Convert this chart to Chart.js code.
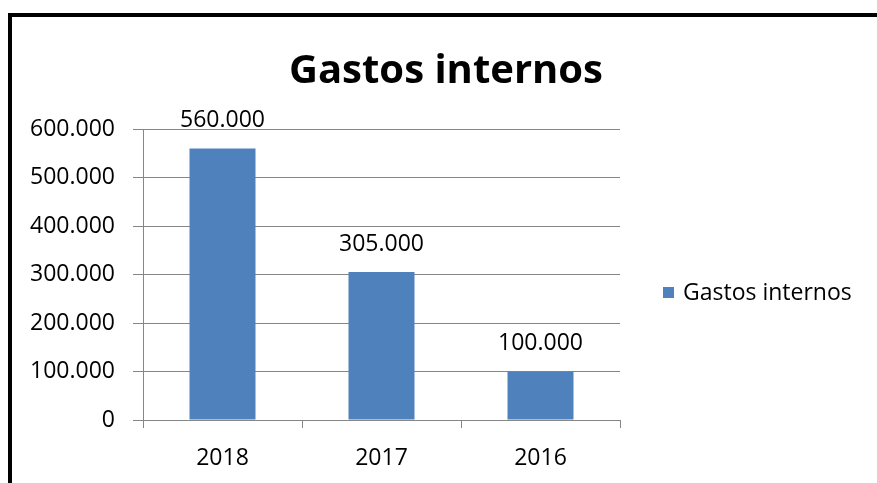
<!DOCTYPE html>
<html>
<head>
<meta charset="utf-8">
<script src="https://cdn.jsdelivr.net/npm/chart.js@4.4.1/dist/chart.umd.min.js"></script>
<style>
  html, body { margin: 0; padding: 0; background: #fff; }
  #frame {
    position: absolute; left: 8px; top: 13px; width: 900px; height: 500px;
    border-top: 4px solid #000; border-left: 4px solid #000;
  }
  #wrap { position: absolute; left: 0; top: 0; width: 877px; height: 483px; }
</style>
</head>
<body>
<div id="frame"></div>
<div id="wrap"><canvas id="chart"></canvas></div>
<script>
const years = ['2018', '2017', '2016'];
const gastos = [560000, 305000, 100000];
const seriesName = 'Gastos internos';
const chartTitle = 'Gastos internos';

const FONT = '"Open Sans", sans-serif';
const GRID = '#868686';

// puntos como separador de miles: 560000 -> 560.000
function fmt(v) {
    return String(v).replace(/\B(?=(\d{3})+(?!\d))/g, '.');
}

// etiquetas de valor encima de cada barra
const barLabels = {
    id: 'barLabels',
    afterDatasetsDraw(chart) {
        const ctx = chart.ctx;
        const meta = chart.getDatasetMeta(0);
        ctx.save();
        ctx.font = '23px ' + FONT;
        ctx.fillStyle = '#000';
        ctx.textAlign = 'center';
        ctx.textBaseline = 'middle';
        meta.data.forEach((bar, i) => {
            ctx.fillText(fmt(chart.data.datasets[0].data[i]), bar.x, bar.y - 28);
        });
        ctx.restore();
    }
};

// titulo centrado sobre todo el marco, leyenda a la derecha
const sideLegend = {
    id: 'sideLegend',
    afterLayout(chart) {
        const t = chart.titleBlock;
        if (t) { t.left = 8; t.right = 884; }
    },
    afterDraw(chart) {
        const ctx = chart.ctx;
        const ds = chart.data.datasets[0];
        const x = chart.chartArea.right + 43;
        const y = 293;
        ctx.save();
        ctx.fillStyle = ds.backgroundColor;
        ctx.fillRect(x, y - 6, 11, 11);
        ctx.font = '23px ' + FONT;
        ctx.fillStyle = '#000';
        ctx.textBaseline = 'middle';
        ctx.fillText(ds.label, x + 20, y);
        ctx.restore();
    }
};

const ctx = document.getElementById('chart').getContext('2d');
new Chart(ctx, {
    type: 'bar',
    data: {
        labels: years,
        datasets: [{
            label: seriesName,
            data: gastos,
            backgroundColor: '#4F81BD',
            borderWidth: 0,
            barPercentage: 0.415,
            categoryPercentage: 1
        }]
    },
    options: {
        responsive: true,
        maintainAspectRatio: false,
        animation: false,
        layout: { padding: { left: 0, right: 257, top: 0, bottom: 0 } },
        plugins: {
            title: {
                display: true,
                text: chartTitle,
                color: '#000',
                font: { family: FONT, size: 40, weight: 'bold' },
                padding: { top: 48, bottom: 33 }
            },
            legend: { display: false },
            tooltip: { enabled: false }
        },
        scales: {
            x: {
                grid: { display: true, drawOnChartArea: false, color: GRID, tickLength: 8 },
                border: { color: GRID },
                ticks: { color: '#000', font: { family: FONT, size: 23 }, padding: 17 },
                afterFit(scale) { scale.height = 63; }
            },
            y: {
                min: 0,
                max: 600000,
                ticks: {
                    stepSize: 100000,
                    color: '#000',
                    font: { family: FONT, size: 23 },
                    padding: 18,
                    callback: v => fmt(v)
                },
                grid: { color: GRID, tickLength: 10 },
                border: { color: GRID },
                afterFit(scale) { scale.width = 143; }
            }
        }
    },
    plugins: [barLabels, sideLegend]
});
</script>
</body>
</html>
